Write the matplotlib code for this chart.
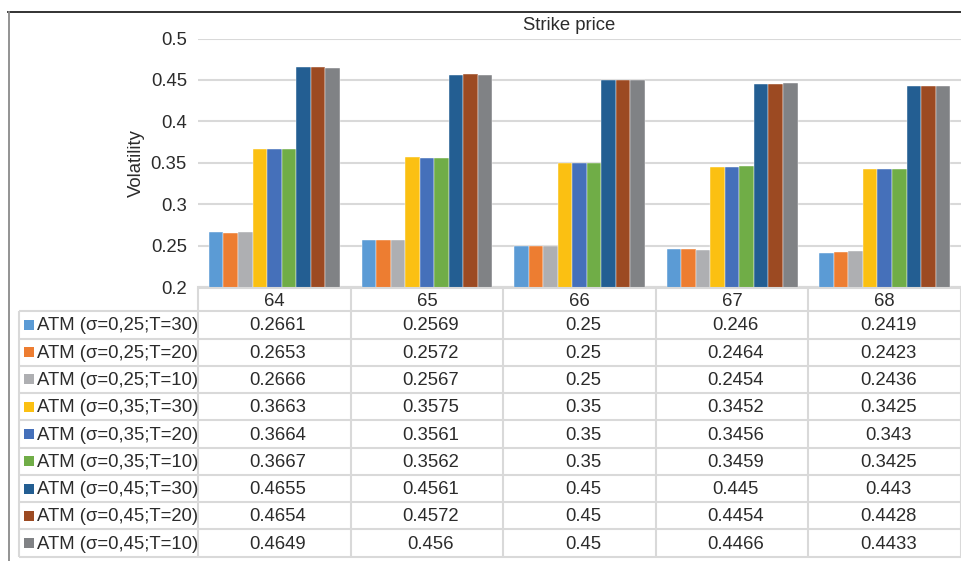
import numpy as np
import matplotlib
matplotlib.use("Agg")
import matplotlib.pyplot as plt

plt.rcParams['font.family'] = ['Liberation Sans', 'DejaVu Sans']

# data
strikes = ["64", "65", "66", "67", "68"]
series = [
    "ATM (σ=0,25;T=30)", "ATM (σ=0,25;T=20)", "ATM (σ=0,25;T=10)",
    "ATM (σ=0,35;T=30)", "ATM (σ=0,35;T=20)", "ATM (σ=0,35;T=10)",
    "ATM (σ=0,45;T=30)", "ATM (σ=0,45;T=20)", "ATM (σ=0,45;T=10)",
]
s25_30 = [0.2661, 0.2569, 0.25, 0.246, 0.2419]
s25_20 = [0.2653, 0.2572, 0.25, 0.2464, 0.2423]
s25_10 = [0.2666, 0.2567, 0.25, 0.2454, 0.2436]
s35_30 = [0.3663, 0.3575, 0.35, 0.3452, 0.3425]
s35_20 = [0.3664, 0.3561, 0.35, 0.3456, 0.343]
s35_10 = [0.3667, 0.3562, 0.35, 0.3459, 0.3425]
s45_30 = [0.4655, 0.4561, 0.45, 0.445, 0.443]
s45_20 = [0.4654, 0.4572, 0.45, 0.4454, 0.4428]
s45_10 = [0.4649, 0.456, 0.45, 0.4466, 0.4433]
values = [s25_30, s25_20, s25_10, s35_30, s35_20, s35_10, s45_30, s45_20, s45_10]

colors = ["#5B9BD5", "#ED7D31", "#AEAFB2", "#FBC012", "#4570BA",
          "#70AD47", "#235E92", "#9C4A22", "#808285"]

W, H = 962, 561
fig = plt.figure(figsize=(W / 100, H / 100), dpi=100)
txt = "#2B2B2B"
grid_c = "#D9D9D9"
fs = 13.3


def box(x0, y0, x1, y1):
    # pixel box (top-left origin) -> figure fraction rect
    return [x0 / W, 1 - y1 / H, (x1 - x0) / W, (y1 - y0) / H]


# outer frame
fig.add_artist(plt.Line2D([8 / W, 1], [1 - 11.5 / H] * 2, color="#222222", lw=1.3))
fig.add_artist(plt.Line2D([8.5 / W] * 2, [0, 1 - 11.5 / H], color="#8A8A8A", lw=1.3))

# bar chart
ax = fig.add_axes(box(198, 38.5, 961, 287.3))
n = len(series)
x = np.arange(len(strikes))
bw = 1 / (n + 1.5)
for j in range(n):
    ax.bar(x + (j - (n - 1) / 2) * bw, values[j], width=bw, color=colors[j],
           edgecolor="white", linewidth=0.3, zorder=3)
ax.set_xlim(-0.5, len(strikes) - 0.5)
ax.set_ylim(0.2, 0.5)
yt = [0.2, 0.25, 0.3, 0.35, 0.4, 0.45, 0.5]
ax.set_yticks(yt)
ax.set_yticklabels(["0.2", "0.25", "0.3", "0.35", "0.4", "0.45", "0.5"])
ax.set_xticks([])
ax.tick_params(axis="y", length=0, pad=8, labelsize=fs, labelcolor=txt)
ax.grid(axis="y", color=grid_c, lw=1.5, zorder=0)
for s in ["top", "left", "right"]:
    ax.spines[s].set_visible(False)
ax.spines["bottom"].set_color(grid_c)
ax.spines["bottom"].set_linewidth(1.5)
ax.set_ylabel("Volatility", fontsize=fs, color=txt)
ax.yaxis.set_label_coords(-0.069, 0.5)
fig.text(569.5 / W, 1 - 25 / H, "Strike price", fontsize=fs, color=txt,
         ha="center", va="center")

# data table
colw = 152.6
L = (198 - 19) / colw
h0 = 23 / 27.3
nrow = len(series)
tab = fig.add_axes(box(19, 288.3, 961, 556.7))
tab.set_xlim(-0.5 - L, len(strikes) - 0.5)
tab.set_ylim(h0 + nrow, 0)
tab.axis("off")
lk = dict(color=grid_c, lw=1.5, clip_on=False)
tab.hlines(0, -0.5, len(strikes) - 0.5, **lk)
tab.hlines(h0 + np.arange(nrow + 1), -0.5 - L, len(strikes) - 0.5, **lk)
tab.vlines(np.arange(len(strikes) + 1) - 0.5, 0, h0 + nrow, **lk)
tab.vlines(-0.5 - L, h0, h0 + nrow, **lk)

for i, s in enumerate(strikes):
    tab.text(i, h0 / 2 + 0.05, s, fontsize=fs, color=txt, ha="center", va="center")
for j, name in enumerate(series):
    yc = h0 + j + 0.5
    tab.scatter([-0.5 - L + 10.4 / colw], [yc], marker="s", s=42, color=colors[j],
                linewidths=0, clip_on=False)
    tab.text(-0.5 - L + 17.5 / colw, yc + 0.04, name, fontsize=fs, color=txt,
             ha="left", va="center")
    for i in range(len(strikes)):
        tab.text(i + 0.023, yc + 0.04, f"{values[j][i]:g}", fontsize=fs, color=txt,
                 ha="center", va="center")

fig.savefig("out.png", dpi=100)
